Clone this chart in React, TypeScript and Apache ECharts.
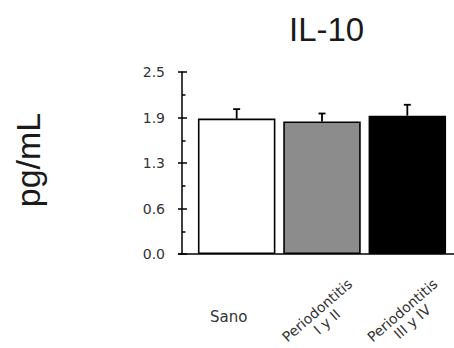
import React, { useEffect, useRef } from "react";
import * as echarts from "echarts";

const categories = ["Sano", "Periodontitis\nI y II", "Periodontitis\nIII y IV"];
const means = [1.86, 1.82, 1.9];
const errorTops = [1.99, 1.93, 2.05];
const barColors = ["#ffffff", "#8c8c8c", "#000000"];
const yTickLabels = ["0.0", "0.6", "1.3", "1.9", "2.5"];

const GRID_TOP = 72;
const GRID_BOTTOM = 94;
const AXIS_Y = 348 - GRID_BOTTOM;

export default function App() {
  const ref = useRef<HTMLDivElement>(null);
  useEffect(() => {
    if (!ref.current) return;
    const chart = echarts.init(ref.current, undefined, { renderer: "svg" });
    const yCommon = {
      type: "value" as const,
      min: 0,
      max: 2.5,
      interval: 0.625,
      position: "left" as const,
      offset: 12,
      splitLine: { show: false },
    };
    chart.setOption({
      animation: false,
      backgroundColor: "#ffffff",
      title: {
        text: "IL-10",
        left: 284,
        top: 8,
        textStyle: { fontFamily: "Liberation Sans", fontSize: 33, fontWeight: "normal", color: "#1a1a1a" },
      },
      grid: { left: 194, right: 4, top: GRID_TOP, bottom: GRID_BOTTOM, outerBoundsMode: "none", containLabel: false },
      xAxis: [
        {
          type: "category",
          data: categories,
          position: "bottom",
          axisLine: { show: false },
          axisTick: { show: false },
          axisLabel: {
            interval: 0,
            formatter: (v: string, i: number) => (i === 0 ? v : ""),
            fontFamily: "DejaVu Sans",
            fontSize: 15,
            color: "#333",
            align: "center",
            verticalAlign: "middle",
            margin: 63,
            padding: [0, 16, 0, 0],
          },
        },
        {
          type: "category",
          data: categories,
          position: "bottom",
          axisLine: { show: false },
          axisTick: { show: false },
          axisLabel: {
            interval: 0,
            rotate: 41,
            formatter: (v: string, i: number) => (i === 0 ? "" : v),
            fontFamily: "DejaVu Sans",
            fontSize: 14,
            lineHeight: 15,
            color: "#333",
            align: "center",
            verticalAlign: "middle",
            margin: 62,
          },
        },
      ],
      yAxis: [
        {
          ...yCommon,
          name: "pg/mL",
          nameLocation: "middle",
          nameRotate: 90,
          nameGap: 137,
          nameTextStyle: { fontFamily: "Liberation Sans", fontSize: 34, color: "#1a1a1a", padding: [0, 0, 0, 6] },
          axisLine: { show: true, lineStyle: { color: "#000", width: 1.5 } },
          axisTick: { show: true, inside: false, length: 4, lineStyle: { color: "#000", width: 1.5 } },
          axisLabel: {
            margin: 17,
            fontFamily: "DejaVu Sans",
            fontSize: 14,
            color: "#333",
            formatter: (v: number) => yTickLabels[Math.round(v / 0.625)] ?? "",
          },
        },
        {
          ...yCommon,
          axisLine: { show: false },
          axisLabel: { show: false },
          axisTick: { show: true, inside: true, length: 5, lineStyle: { color: "#000", width: 1.5 } },
          minorTick: { show: true, splitNumber: 2, length: 3.5, lineStyle: { color: "#000", width: 1.5 } },
        },
      ],
      graphic: [
        {
          type: "line",
          shape: { x1: 178, y1: AXIS_Y, x2: 454, y2: AXIS_Y },
          style: { stroke: "#000", lineWidth: 1.5 },
          z: 10,
        },
      ],
      series: [
        {
          type: "bar",
          xAxisIndex: 0,
          yAxisIndex: 0,
          barWidth: 77.5,
          data: means.map((v, i) => ({
            value: v,
            itemStyle: { color: barColors[i], borderColor: "#000", borderWidth: 1.6 },
          })),
          z: 2,
        },
        {
          type: "custom",
          xAxisIndex: 0,
          yAxisIndex: 0,
          z: 3,
          data: means.map((m, i) => [i, m, errorTops[i]]),
          encode: { x: 0, y: 1 },
          renderItem: (params: any, api: any) => {
            const x = api.value(0);
            const base = api.coord([x, api.value(1)]);
            const top = api.coord([x, api.value(2)]);
            const half = 3.5;
            return {
              type: "group",
              children: [
                {
                  type: "line",
                  shape: { x1: base[0], y1: base[1], x2: top[0], y2: top[1] },
                  style: { stroke: "#000", lineWidth: 1.8 },
                },
                {
                  type: "line",
                  shape: { x1: top[0] - half, y1: top[1], x2: top[0] + half, y2: top[1] },
                  style: { stroke: "#000", lineWidth: 1.8 },
                },
              ],
            };
          },
        },
      ],
    });
    return () => chart.dispose();
  }, []);
  return <div ref={ref} style={{ width: 454, height: 348, position: "absolute", left: 0, top: 0 }} />;
}
